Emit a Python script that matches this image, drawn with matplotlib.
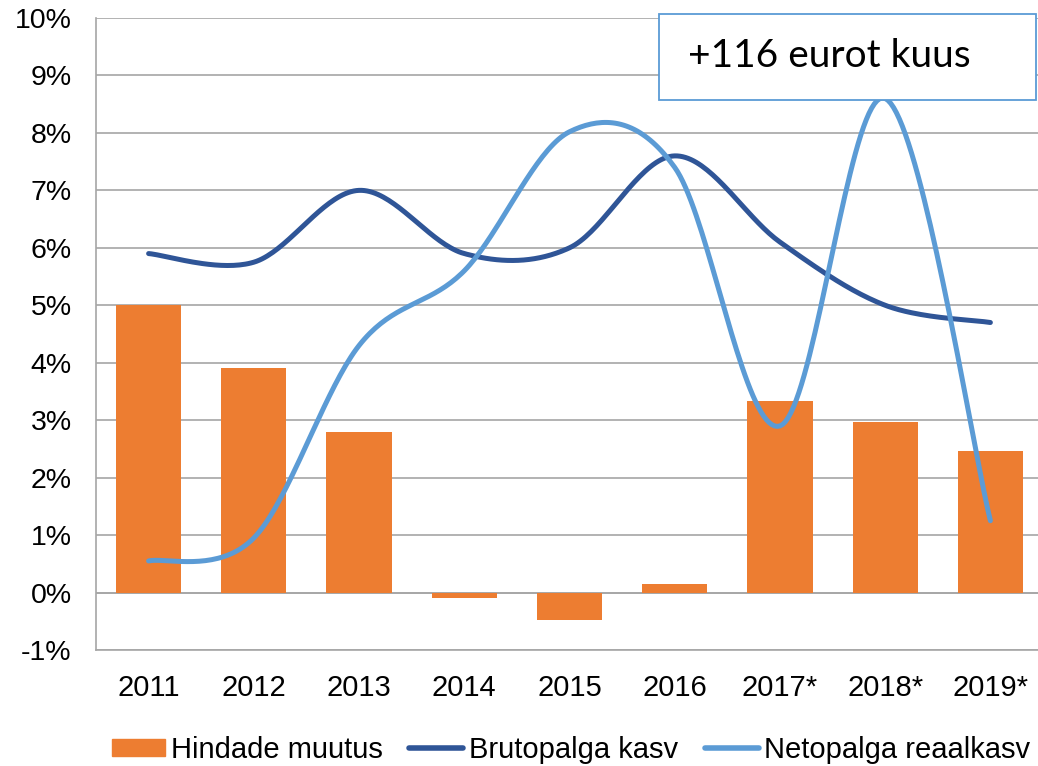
import matplotlib.pyplot as plt
import numpy as np
from matplotlib.patches import Rectangle
from matplotlib.lines import Line2D

years = ['2011', '2012', '2013', '2014', '2015', '2016', '2017*', '2018*', '2019*']
hindade_muutus = [5.0, 3.9, 2.8, -0.1, -0.48, 0.15, 3.34, 2.96, 2.47]
brutopalga_kasv = [5.9, 5.75, 7.0, 5.9, 6.0, 7.6, 6.1, 5.0, 4.7]
netopalga_reaalkasv = [0.55, 0.95, 4.3, 5.6, 8.02, 7.4, 2.9, 8.6, 1.25]

plt.rcParams['font.family'] = ['Liberation Sans', 'DejaVu Sans']


def smooth(xs, ys, n=40):
    # Excel-like smoothed line: cubic bezier, Catmull-Rom control points
    p = np.column_stack([xs, ys]).astype(float)
    p = np.vstack([p[0], p, p[-1]])
    out = []
    for i in range(1, len(p) - 2):
        p0, p1, p2, p3 = p[i - 1], p[i], p[i + 1], p[i + 2]
        c1 = p1 + (p2 - p0) / 6
        c2 = p2 - (p3 - p1) / 6
        t = np.linspace(0, 1, n)[:, None]
        seg = (1 - t) ** 3 * p1 + 3 * (1 - t) ** 2 * t * c1 + 3 * (1 - t) * t ** 2 * c2 + t ** 3 * p2
        out.append(seg if i == 1 else seg[1:])
    out = np.vstack(out)
    return out[:, 0], out[:, 1]


fig = plt.figure(figsize=(10.38, 7.66), dpi=100)
ax = fig.add_axes([96 / 1038, 1 - 650 / 766, 947 / 1038, 632 / 766])

x = np.arange(len(years))
ax.bar(x, hindade_muutus, width=0.62, color='#ED7D31', zorder=2)
bx, by = smooth(x, brutopalga_kasv)
ax.plot(bx, by, color='#2F5597', lw=3.6, zorder=3, solid_capstyle='round')
nx, ny = smooth(x, netopalga_reaalkasv)
ax.plot(nx, ny, color='#5B9BD5', lw=3.6, zorder=4, solid_capstyle='round')

ax.set_xlim(-0.5, len(years) - 0.5)
ax.set_ylim(-1, 10)
ax.set_yticks(range(-1, 11))
ax.set_yticklabels([f'{v}%' for v in range(-1, 11)], fontsize=20.5)
ax.set_xticks(x)
ax.set_xticklabels(years, fontsize=21)
ax.tick_params(length=0)
ax.tick_params(axis='x', pad=17)
ax.tick_params(axis='y', pad=17.5)
ax.grid(axis='y', color='#A6A6A6', lw=1.2, zorder=0)
ax.axhline(0, color='#A6A6A6', lw=1.2, zorder=1)
for s in ['top', 'right']:
    ax.spines[s].set_visible(False)
for s in ['left', 'bottom']:
    ax.spines[s].set_color('#A6A6A6')
    ax.spines[s].set_linewidth(1.2)

# text box
fig.patches.append(Rectangle((659 / 1038, 1 - 100 / 766), 377 / 1038, 86 / 766,
                             transform=fig.transFigure, fill=True, facecolor='white',
                             edgecolor='#5B9BD5', lw=1.3, zorder=5))
fig.text(688 / 1038, 1 - 56 / 766, '+116 eurot kuus', fontsize=28, family='Lato',
         va='center', ha='left', zorder=6)

handles = [Rectangle((0, 0), 1, 1, color='#ED7D31'),
           Line2D([], [], color='#2F5597', lw=4, solid_capstyle='round'),
           Line2D([], [], color='#5B9BD5', lw=4, solid_capstyle='round')]
fig.legend(handles, ['Hindade muutus', 'Brutopalga kasv', 'Netopalga reaalkasv'],
           loc='center', bbox_to_anchor=(571 / 1038, 1 - 750 / 766), ncol=3, frameon=False,
           fontsize=21, handlelength=1.85, handletextpad=0.2, columnspacing=0.9,
           handleheight=0.55, borderpad=0, borderaxespad=0)

fig.savefig('out.png', dpi=100)
